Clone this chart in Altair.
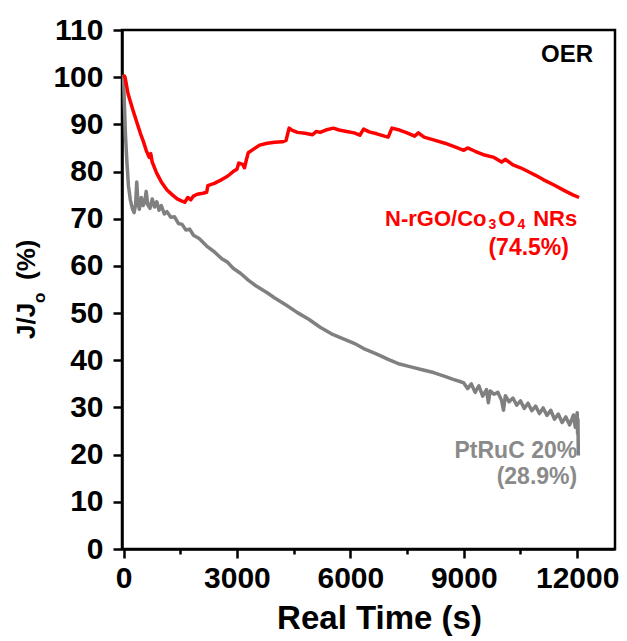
import altair as alt
import pandas as pd

# ---- data ----
SERIES = ["N-rGO/Co3O4 NRs", "PtRuC 20%"]
COLORS = ["#ff0000", "#808080"]

RED_T = [0, 40, 120, 250, 350, 450, 520, 600, 680, 720, 760, 880, 1000, 1150, 1300, 1420,
         1530, 1620, 1700, 1780, 1850, 1950, 2100, 2200, 2230, 2400, 2600, 2750, 2900, 3000,
         3050, 3150, 3200, 3250, 3300, 3450, 3600, 3800, 4000, 4200, 4300, 4380, 4450, 4600,
         4800, 5000, 5100, 5200, 5350, 5550, 5700, 5900, 6100, 6250, 6350, 6500, 6700, 6900,
         7000, 7100, 7300, 7500, 7700, 7800, 7950, 8200, 8500, 8800, 9000, 9100, 9300, 9550,
         9800, 10000, 10100, 10300, 10500, 10700, 10900, 11100, 11400, 11700, 11900, 12050]
RED_V = [100.5, 100.0, 96.5, 93.0, 90.5, 88.0, 86.5, 84.5, 83.0, 83.8, 82.0, 79.6, 77.8, 76.1,
         75.0, 74.2, 73.8, 73.5, 74.5, 74.0, 74.8, 75.2, 75.4, 75.6, 77.0, 77.5, 78.3, 79.0,
         80.0, 80.5, 81.8, 81.5, 80.8, 82.5, 84.0, 84.8, 85.6, 86.0, 86.2, 86.3, 86.6, 89.2,
         88.8, 88.3, 88.1, 87.8, 88.5, 88.3, 88.8, 89.2, 88.8, 88.5, 88.2, 87.7, 89.0, 88.4,
         88.0, 87.5, 87.3, 89.2, 88.8, 88.2, 87.5, 88.2, 87.3, 86.7, 86.0, 85.1, 84.5, 85.0,
         84.3, 83.5, 83.0, 82.0, 82.6, 81.4, 80.8, 80.0, 79.2, 78.3, 77.1, 75.8, 75.0, 74.5]

GRAY_T = [0, 20, 50, 90, 130, 180, 240, 280, 320, 350, 380, 420, 470, 520, 560, 600, 640, 700,
          760, 820, 880, 940, 1000, 1080, 1150, 1250, 1350, 1450, 1550, 1650, 1750, 1850, 2000,
          2200, 2400, 2600, 2750, 2900, 3100, 3300, 3500, 3800, 4000, 4300, 4600, 4900, 5200,
          5500, 5800, 6100, 6400, 6700, 7000, 7300, 7600, 7900, 8200, 8500, 8700, 8900, 9000,
          9100, 9200, 9300, 9400, 9500, 9600, 9650, 9700, 9800, 9900, 10000, 10050, 10100,
          10200, 10300, 10400, 10500, 10600, 10700, 10800, 10900, 11000, 11100, 11200, 11300,
          11400, 11500, 11600, 11700, 11800, 11900, 11950, 12000, 12010, 12020, 12030]
GRAY_V = [100.5, 95.0, 88.0, 82.0, 77.0, 74.0, 72.0, 71.3, 73.0, 77.8, 73.5, 72.0, 74.5, 72.8,
          73.5, 75.8, 73.0, 72.2, 74.2, 72.5, 73.6, 71.8, 72.8, 71.0, 71.5, 70.3, 70.4, 69.0,
          68.8, 67.6, 67.8, 66.5, 65.8, 64.2, 63.0, 61.5, 60.8, 59.5, 58.4, 57.0, 55.8, 54.3,
          53.2, 51.7, 50.1, 48.7, 47.0, 45.6, 44.6, 43.6, 42.3, 41.3, 40.2, 39.2, 38.6, 38.0,
          37.4, 36.6, 36.0, 35.5, 35.2, 34.0, 35.0, 33.2, 34.6, 32.4, 33.8, 31.0, 33.5, 32.8,
          33.2, 31.5, 29.4, 32.5, 31.2, 32.0, 30.5, 31.4, 29.8, 30.9, 29.3, 30.3, 28.7, 29.9,
          28.3, 29.4, 27.5, 28.6, 26.8, 28.0, 26.3, 28.4, 25.8, 28.9, 24.5, 27.5, 19.8]

X_TICKS = list(range(0, 12001, 1500))
Y_TICKS = list(range(0, 111, 5))

FONT = "Liberation Sans"

df = pd.concat([
    pd.DataFrame({"t": GRAY_T, "v": GRAY_V, "series": SERIES[1]}),
    pd.DataFrame({"t": RED_T, "v": RED_V, "series": SERIES[0]}),
], ignore_index=True)

x_scale = alt.Scale(domain=[-40, 13000], nice=False, zero=False)
y_scale = alt.Scale(domain=[0, 110], nice=False)

axis_common = dict(
    grid=False, domainColor="black", domainWidth=2.5, tickColor="black", tickWidth=2.5,
    labelColor="black", labelFont=FONT, labelFontWeight="bold", labelFontSize=30,
    labelFlush=False, labelOverlap=False, format="d",
)

x_axis = alt.Axis(
    values=X_TICKS,
    labelExpr="datum.value % 3000 === 0 ? datum.label : ''",
    tickSize={"condition": {"test": "datum.value % 3000 === 0", "value": 9}, "value": 5},
    labelPadding=5,
    title="Real Time (s)", titleFont=FONT, titleFontWeight="bold", titleFontSize=33,
    titleColor="black", titleX=257, titleY=79, titleBaseline="alphabetic", titleAlign="center",
    **axis_common,
)
y_axis = alt.Axis(
    values=Y_TICKS,
    labelExpr="datum.value % 10 === 0 ? datum.label : ''",
    tickSize={"condition": {"test": "datum.value % 10 === 0", "value": 9}, "value": 5},
    labelPadding=10,
    title=None,
    **axis_common,
)

lines = alt.Chart(df).mark_line(strokeWidth=3.5, strokeJoin="round").encode(
    x=alt.X("t:Q", scale=x_scale, axis=x_axis),
    y=alt.Y("v:Q", scale=y_scale, axis=y_axis),
    color=alt.Color("series:N", scale=alt.Scale(domain=SERIES, range=COLORS), legend=None),
    detail="series:N",
    order=alt.Order("t:Q"),
)

# annotation pieces: text, t, v, size, dx, dy, color
RED_LBL = "#ff0000"
GRAY_LBL = "#8a8a8a"
pieces = [
    ("OER", 12418, 103.2, 24, 0, 0, "black"),
    ("NRs", 12000, 68.5, 22, 0, 0, RED_LBL),
    ("4", 12000, 68.5, 14, -52, 3, RED_LBL),
    ("O", 12000, 68.5, 22, -61.8, 0, RED_LBL),
    ("3", 12000, 68.5, 14, -80.9, 3, RED_LBL),
    ("N-rGO/Co", 12000, 68.5, 22, -90.7, 0, RED_LBL),
    ("(74.5%)", 11783, 62.3, 23, 0, 0, RED_LBL),
    ("PtRuC 20%", 12000, 19.3, 23, 0, 0, GRAY_LBL),
    ("(28.9%)", 12000, 13.8, 23, 0, 0, GRAY_LBL),
]

layers = [lines]
for text, t, v, size, dx, dy, color in pieces:
    layers.append(
        alt.Chart(pd.DataFrame({"t": [t], "v": [v], "txt": [text]})).mark_text(
            align="right", baseline="alphabetic", font=FONT, fontWeight="bold",
            fontSize=size, dx=dx, dy=dy, color=color,
        ).encode(x=alt.X("t:Q", scale=x_scale), y=alt.Y("v:Q", scale=y_scale), text="txt:N")
    )

# y-axis title with subscript, rotated
ytitle = [("J/J", -87, 309, 26), ("o", -77, 273, 17), ("(%)", -87, 250, 26)]
for text, px, py, size in ytitle:
    layers.append(
        alt.Chart(pd.DataFrame({"txt": [text]})).mark_text(
            align="left", baseline="alphabetic", angle=270, font=FONT, fontWeight="bold",
            fontSize=size, color="black",
        ).encode(x=alt.value(px), y=alt.value(py), text="txt:N")
    )

chart = alt.layer(*layers).properties(
    width=493, height=519,
    autosize=alt.AutoSizeParams(type="none"),
    padding={"left": 122, "top": 30, "right": 12, "bottom": 92},
    background="white",
).configure_view(stroke="black", strokeWidth=2.5)

chart.save("out.html", embed_options={"renderer": "svg", "actions": False})
